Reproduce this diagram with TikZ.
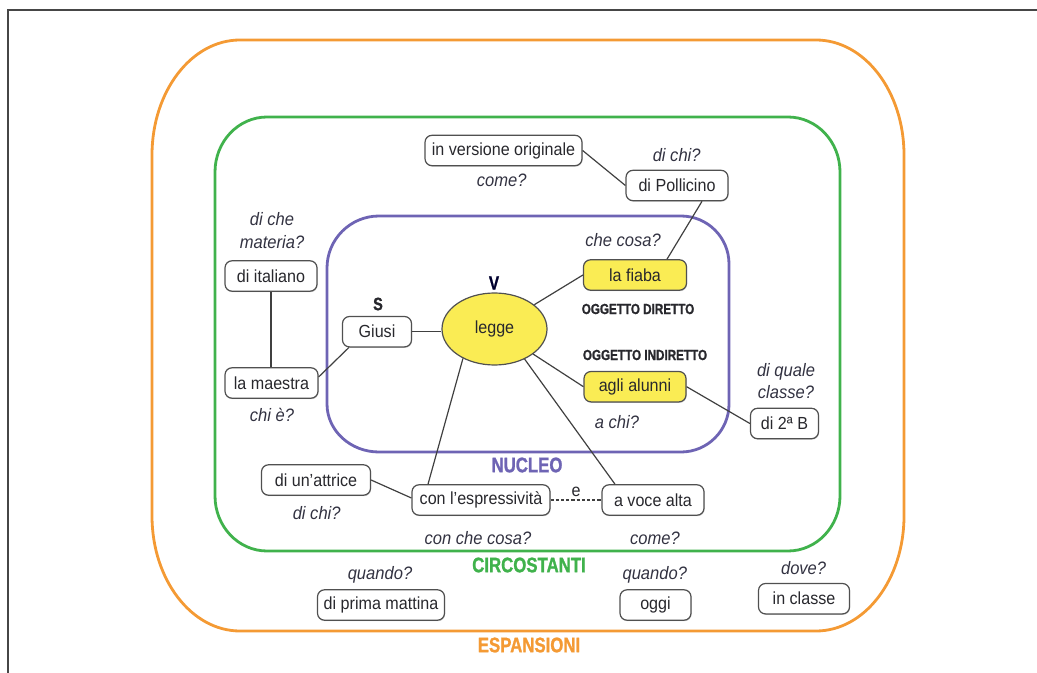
\documentclass[tikz,border=0pt]{standalone}
\usepackage{fontspec}
\setmainfont{Liberation Sans}[FakeStretch=0.92]
\newfontfamily\condbold{Liberation Sans}[FakeStretch=0.8, BoldFeatures={FakeBold=1.2}]
\usetikzlibrary{calc,shapes.geometric,shadows}
\definecolor{orangeE}{RGB}{244,154,52}
\definecolor{greenC}{RGB}{64,178,76}
\definecolor{purpleN}{RGB}{110,100,180}
\definecolor{yellowF}{RGB}{250,236,84}
\definecolor{textD}{RGB}{40,40,45}
\definecolor{qtext}{RGB}{50,50,65}
\definecolor{boxline}{RGB}{80,80,80}
\definecolor{frameC}{RGB}{70,70,70}
\newcommand{\nodefont}{\fontsize{8.75pt}{10pt}\selectfont}
\newcommand{\qfont}{\itshape\fontsize{9pt}{11.2pt}\selectfont}
\tikzset{
  box/.style={draw=boxline, rounded corners=3.5pt, line width=0.6pt, fill=white,
    font=\nodefont, text=textD, minimum height=15.2pt, inner sep=0pt,
    drop shadow={shadow xshift=0.3pt, shadow yshift=-0.5pt, fill=black!50, opacity=0.35}},
  ybox/.style={box, fill=yellowF},
  quest/.style={font=\qfont, text=qtext, inner sep=0pt, align=center},
  gram/.style={font=\condbold\bfseries\fontsize{7.3pt}{8pt}\selectfont, text=textD, inner sep=0pt},
  region/.style={font=\condbold\bfseries\fontsize{10.5pt}{12pt}\selectfont, inner sep=0pt},
  conn/.style={draw=black!75, line width=0.6pt},
}
\begin{document}
\begin{tikzpicture}[x=0.5pt, y=-0.5pt]
\useasboundingbox (0,0) rectangle (1037,673);
% frame
\draw[frameC, line width=1.2pt] (1037,10) -- (8,10) -- (8,673);
% regions
\draw[orangeE, line width=1.4pt] (240,40) -- (816,40)
  arc[start angle=-90, end angle=0, x radius=88, y radius=115] -- (904,516)
  arc[start angle=0, end angle=90, x radius=88, y radius=115] -- (240,631)
  arc[start angle=90, end angle=180, x radius=88, y radius=115] -- (152,155)
  arc[start angle=180, end angle=270, x radius=88, y radius=115] -- cycle;
\draw[greenC, line width=1.4pt] (267,117) -- (788,117)
  arc[start angle=-90, end angle=0, x radius=52, y radius=55] -- (840,496)
  arc[start angle=0, end angle=90, x radius=52, y radius=55] -- (267,551)
  arc[start angle=90, end angle=180, x radius=52, y radius=55] -- (215,172)
  arc[start angle=180, end angle=270, x radius=52, y radius=55] -- cycle;
\draw[purpleN, line width=1.4pt] (379,216) -- (681,216)
  arc[start angle=-90, end angle=0, x radius=48, y radius=48] -- (729,404)
  arc[start angle=0, end angle=90, x radius=48, y radius=48] -- (379,452)
  arc[start angle=90, end angle=180, x radius=52, y radius=48] -- (327,268)
  arc[start angle=180, end angle=270, x radius=52, y radius=52] -- cycle;
% region labels
\node[region, text=purpleN] (lnucleo) at (527,465) {NUCLEO};
\node[region, text=greenC] (lcirc) at (529,565) {CIRCOSTANTI};
\node[region, text=orangeE] (lesp) at (529,645) {ESPANSIONI};
% nodes
\node[ellipse, draw=boxline, line width=0.6pt, fill=yellowF, minimum width=52.5pt, minimum height=36pt, inner sep=0pt, font=\nodefont, text=textD] (legge) at (494.5,329) {legge};
\node[box, minimum width=78.5pt] (ver) at (503.5,150.5) {in versione originale};
\node[box, minimum width=51pt] (pol) at (677,185.5) {di Pollicino};
\node[ybox, minimum width=51.5pt] (fiaba) at (635,275) {la fiaba};
\node[box, minimum width=34.5pt] (giusi) at (377,331.7) {Giusi};
\node[box, minimum width=46pt] (ital) at (271,276) {di italiano};
\node[box, minimum width=46.5pt] (maes) at (271.5,383) {la maestra};
\node[ybox, minimum width=51pt] (alunni) at (635,386.7) {agli alunni};
\node[box, minimum width=34pt] (due) at (784.5,423.5) {di 2ª B};
\node[box, minimum width=54.5pt] (attr) at (316,480) {di un’attrice};
\node[box, minimum width=69pt] (espr) at (481,500) {con l’espressività};
\node[box, minimum width=51pt] (voce) at (653,500) {a voce alta};
\node[box, minimum width=63.5pt] (prima) at (381,605) {di prima mattina};
\node[box, minimum width=35.5pt] (oggi) at (655.5,605) {oggi};
\node[box, minimum width=45.5pt] (classe) at (804,598.7) {in classe};
% questions and labels
\node[quest] (qver) at (501.7,180) {come?};
\node[quest] (qpol) at (676.7,155) {di chi?};
\node[quest] (qfiaba) at (623,240) {che cosa?};
\node[gram] (od) at (638,309) {OGGETTO DIRETTO};
\node[gram] (oi) at (645,355) {OGGETTO INDIRETTO};
\node[gram, font=\condbold\bfseries\fontsize{9.5pt}{10pt}\selectfont, text=black!70!blue!60!black] (lv) at (494,283) {V};
\node[gram, font=\condbold\bfseries\fontsize{9pt}{10pt}\selectfont] (ls) at (378,304) {S};
\node[quest] (qital) at (272,230.5) {di che\\materia?};
\node[quest] (qmaes) at (272,415) {chi è?};
\node[quest] (qdue) at (786,381) {di quale\\classe?};
\node[quest] (qalunni) at (617,421.7) {a chi?};
\node[quest] (qattr) at (316.7,513.3) {di chi?};
\node[quest] (qespr) at (478,538) {con che cosa?};
\node[quest] (qvoce) at (655,538) {come?};
\node[font=\nodefont, text=textD, inner sep=0pt] (le) at (576,491.7) {e};
\node[quest] (qprima) at (380,575) {quando?};
\node[quest] (qoggi) at (654.8,575) {quando?};
\node[quest] (qclasse) at (803.6,568.3) {dove?};
% connectors
\draw[conn] (ver.east) -- (pol.west);
\draw[conn] ($(pol.south)+(25,0)$) -- ($(fiaba.north)+(32,0)$);
\draw[conn] (legge) -- (fiaba.west);
\draw[conn] (legge) -- (alunni.west);
\draw[conn] (alunni.east) -- (due.west);
\draw[conn] (giusi.east) -- (giusi.east -| legge.west);
\draw[conn] ($(giusi.south west)+(7,0)$) -- ($(maes.east)+(0,-6)$);
\draw[conn] (ital.south) -- (ital.south |- maes.north);
\draw[conn] (legge.223) -- ($(espr.north)+(-53,0)$);
\draw[conn] (legge.315) -- ($(voce.north)+(-38,0)$);
\draw[conn] (attr.east) -- ($(espr.west)+(0,-2)$);
\draw[conn, dash pattern=on 1.6pt off 1pt] (espr.east) -- (voce.west);
\end{tikzpicture}
\end{document}
